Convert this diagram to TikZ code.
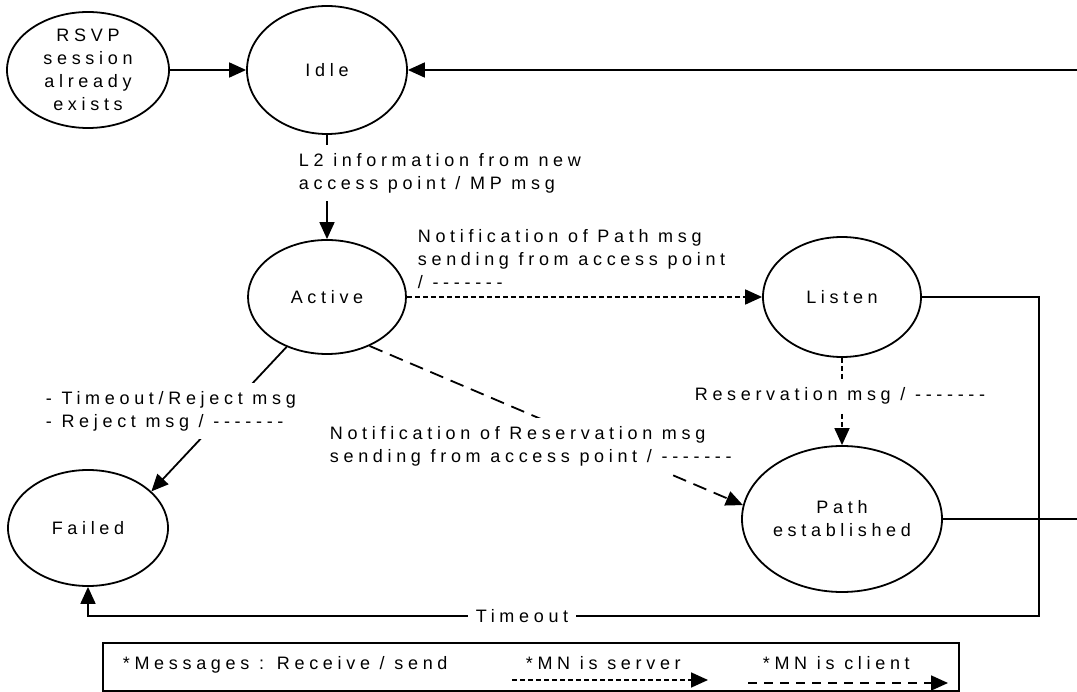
\documentclass[tikz,border=0pt]{standalone}
\usepackage{fontspec}
\setmainfont[LetterSpace=26]{Liberation Sans}
\usetikzlibrary{shapes.geometric,arrows.meta}
\newcommand\nomsg{-{}-{}-{}-{}-{}-{}-}

\begin{document}
\begin{tikzpicture}[x=1pt, y=-1pt, line width=1.8pt, font=\fontsize{18pt}{23pt}\selectfont,
	>={Triangle[length=17pt,width=15pt]},
	block/.style ={ellipse, draw, inner sep=0pt, align=center},
	lbl/.style ={fill=white, inner sep=8pt, align=left},
	srv/.style ={dash pattern=on 5pt off 3pt},
	cli/.style ={dash pattern=on 14pt off 8pt}]
		\useasboundingbox (0,0) rectangle (1077,692);
		\node[block, minimum width=162pt, minimum height=116pt] (rsvp) at (88,70) {RSVP\\session\\already\\exists};
		\node[block, minimum width=160pt, minimum height=128pt] (idle) at (327,70) {Idle};
		\node[block, minimum width=158pt, minimum height=114pt] (active) at (327,297) {Active};
		\node[block, minimum width=158pt, minimum height=120pt] (listen) at (842,297) {Listen};
		\node[block, minimum width=200pt, minimum height=146pt] (path) at (842,519) {Path\\established};
		\node[block, minimum width=160pt, minimum height=116pt] (failed) at (88,528) {Failed};
		\coordinate (ne) at (1077,70);
		\coordinate (e2) at (1077,519);
		\coordinate (se) at (1039,616);
		\draw[->] (rsvp) -- (idle);
		\draw[->] (ne) -- (idle);
		\draw[->] (idle) -- (active);
		\draw[->, srv] (active) -- (listen);
		\draw[->, srv] (listen) -- (path);
		\draw[->, cli] (active.-49) -- (path.172);
		\draw[->] (active.-129) -- (failed.30);
		\draw[->] (listen) -| (se) -| (failed);
		\draw (path) -- (e2);
		\node[lbl, anchor=west] (l2) at (290,173) {L2 information from new\\access point / MP msg};
		\node[align=left, anchor=west, inner sep=0pt] (npath) at (417,259) {Notification of Path msg\\sending from access point\\/ \nomsg};
		\node[lbl] (resv) at (840,396) {Reservation msg / \nomsg};
		\node[lbl, anchor=west] (rej) at (37,411) {- Timeout/Reject msg\\- Reject msg / \nomsg};
		\node[lbl, anchor=west] (nresv) at (321,446) {Notification of Reservation msg\\sending from access point / \nomsg};
		\node[lbl] (tmo) at (522,616) {Timeout};
		% legend
		\node[draw, inner sep=0pt, minimum width=856pt, minimum height=48pt] (legend) at (531,667) {};
		\node[anchor=west, inner sep=0pt] (msgs) at (122,665) {*Messages : Receive / send};
		\node[anchor=west, inner sep=0pt] (srvtxt) at (525,663) {*MN is server};
		\node[anchor=west, inner sep=0pt] (clitxt) at (762,663) {*MN is client};
		\coordinate (s1) at (512,680);
		\coordinate (s2) at (708,680);
		\coordinate (c1) at (748,683);
		\coordinate (c2) at (948,683);
		\draw[->, srv] (s1) -- (s2);
		\draw[->, cli, dash pattern=on 9pt off 7pt] (c1) -- (c2);
	\end{tikzpicture}
\end{document}
